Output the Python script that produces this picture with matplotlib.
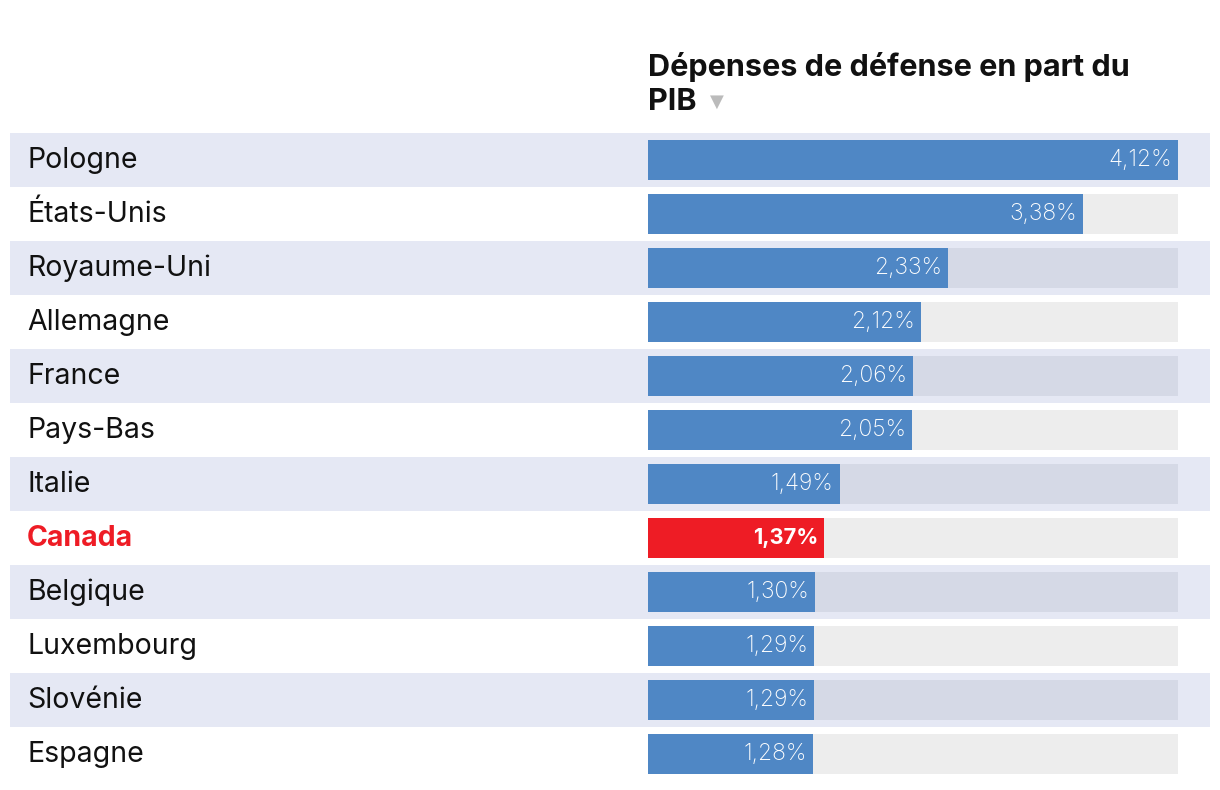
import matplotlib
matplotlib.use("Agg")
import matplotlib.pyplot as plt
from matplotlib.patches import Rectangle
import matplotlib.transforms as mtransforms

plt.rcParams['font.family'] = ['Inter', 'DejaVu Sans']

countries = ["Pologne", "États-Unis", "Royaume-Uni", "Allemagne", "France", "Pays-Bas",
             "Italie", "Canada", "Belgique", "Luxembourg", "Slovénie", "Espagne"]
values = [4.12, 3.38, 2.33, 2.12, 2.06, 2.05, 1.49, 1.37, 1.30, 1.29, 1.29, 1.28]
highlight = "Canada"
title = "Dépenses de défense en part du\nPIB"

BLUE = "#4f87c5"
RED = "#ee1c25"
BAND = "#e5e8f4"
TRACK_BAND = "#d5d9e6"
TRACK_WHITE = "#ededed"

W, H = 1220, 790
fig = plt.figure(figsize=(W / 100, H / 100), dpi=100)

# axes spans the bar area: x 648..1178 px, rows from 133 to 781 px
left, right = 648 / W, 1178 / W
top, bottom = 133 / H, 781 / H
ax = fig.add_axes([left, 1 - bottom, right - left, bottom - top])
ax.set_zorder(2)
n = len(countries)
xmax = max(values)
ax.set_xlim(0, xmax)
ax.set_ylim(n - 0.5, -0.5)
ax.axis("off")

# striped row backgrounds across the figure
trans = mtransforms.blended_transform_factory(fig.transFigure, ax.transData)
for i in range(n):
    if i % 2 == 0:
        fig.patches.append(Rectangle((10 / W, i - 0.5), 1200 / W, 1.0, transform=trans,
                                     facecolor=BAND, edgecolor="none", zorder=0))

ys = list(range(n))
track_colors = [TRACK_BAND if i % 2 == 0 else TRACK_WHITE for i in ys]
ax.barh(ys, [xmax] * n, height=0.74, color=track_colors, zorder=1)
bar_colors = [RED if c == highlight else BLUE for c in countries]
ax.barh(ys, values, height=0.74, color=bar_colors, zorder=2)

for i, (c, v) in enumerate(zip(countries, values)):
    is_hl = c == highlight
    fig.text(27 / W, i, c, transform=trans, ha="left", va="center",
             fontsize=20.5, color=RED if is_hl else "#111111",
             fontweight="bold" if is_hl else "normal", zorder=3)
    txt = f"{v:.2f}".replace(".", ",") + "%"
    ax.text(v - xmax * 6 / 530, i, txt, ha="right", va="center",
            fontsize=15.7 if is_hl else 16.5,
            color="white", fontweight="bold" if is_hl else "light", zorder=3)

lines = title.split("\n")
fig.text(648 / W, 1 - 76 / H, lines[0], ha="left", va="baseline", fontsize=22,
         fontweight="bold", color="#111111")
fig.text(648 / W, 1 - 110 / H, lines[1], ha="left", va="baseline", fontsize=22,
         fontweight="bold", color="#111111")
fig.text(710 / W, 1 - 107 / H, "▼", ha="left", va="baseline", fontsize=13,
         color="#bbbbbb", family=["DejaVu Sans"])

fig.savefig("out.png", dpi=100, facecolor="white")
